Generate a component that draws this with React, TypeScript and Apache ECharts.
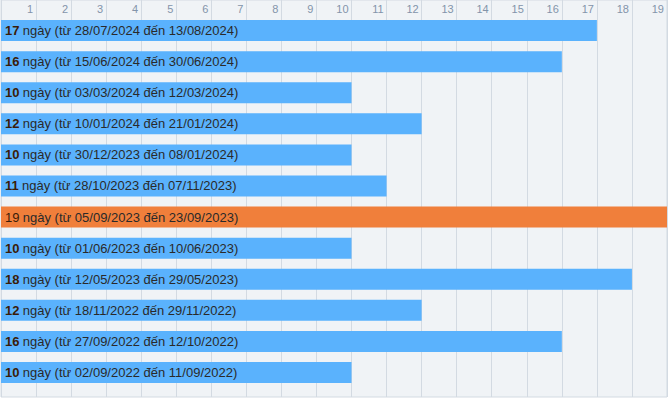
import React, { useEffect, useRef } from "react";
import * as echarts from "echarts";

const days = [17, 16, 10, 12, 10, 11, 19, 10, 18, 12, 16, 10];
const starts = ["28/07/2024", "15/06/2024", "03/03/2024", "10/01/2024", "30/12/2023", "28/10/2023", "05/09/2023", "01/06/2023", "12/05/2023", "18/11/2022", "27/09/2022", "02/09/2022"];
const ends = ["13/08/2024", "30/06/2024", "12/03/2024", "21/01/2024", "08/01/2024", "07/11/2023", "23/09/2023", "10/06/2023", "29/05/2023", "29/11/2022", "12/10/2022", "11/09/2022"];
const highlightIndex = 6;
const xMax = 19;

export default function App() {
  const ref = useRef<HTMLDivElement>(null);
  useEffect(() => {
    if (!ref.current) return;
    const chart = echarts.init(ref.current, null, { renderer: "svg" });
    const cats = days.map((_, i) => "r" + i);
    chart.setOption({
      animation: false,
      grid: [
        { left: 1, right: 1, top: 0, bottom: 2, show: true, backgroundColor: "#f0f3f6", borderColor: "#d3dae2", borderWidth: 1 },
        { left: 1, right: 1, top: 15, height: 373 },
      ],
      xAxis: [
        {
          gridIndex: 0, type: "value", min: 0, max: xMax, interval: 1, position: "top",
          axisLine: { show: false }, axisTick: { show: false },
          splitLine: { show: true, lineStyle: { color: "#d3dae2", width: 1 } },
          axisLabel: {
            inside: true, margin: 3, align: "right", padding: [0, 3, 0, 0],
            color: "#8394aa", fontSize: 11, fontFamily: "Liberation Sans, Arial, sans-serif",
            showMinLabel: false,
            formatter: (v: number) => (v === 0 ? "" : String(v)),
          },
        },
        { gridIndex: 1, type: "value", min: 0, max: xMax, show: false, splitLine: { show: false } },
      ],
      yAxis: [
        { gridIndex: 0, type: "value", show: false, splitLine: { show: false } },
        { gridIndex: 1, type: "category", data: cats, inverse: true, show: false },
      ],
      series: [
        {
          type: "bar", xAxisIndex: 1, yAxisIndex: 1, barWidth: 21,
          data: days.map((d, i) => ({
            value: d,
            itemStyle: { color: i === highlightIndex ? "#f07f3b" : "#5ab2fd" },
          })),
          label: {
            show: true, position: "insideLeft", distance: 4,
            formatter: (p: any) => {
              const tag = p.dataIndex === highlightIndex ? "h" : "b";
              return `{${tag}|${days[p.dataIndex]}} {n|ngày (từ ${starts[p.dataIndex]} đến ${ends[p.dataIndex]})}`;
            },
            rich: {
              b: { fontWeight: "bold", fontSize: 13, color: "#3a1c08", fontFamily: "Liberation Sans, Arial, sans-serif" },
              h: { fontWeight: "normal", fontSize: 13, color: "#3a1c08", fontFamily: "Liberation Sans, Arial, sans-serif" },
              n: { fontSize: 13, color: "#2a2a2a", fontFamily: "Liberation Sans, Arial, sans-serif" },
            },
          },
        },
      ],
    });
    return () => chart.dispose();
  }, []);
  return <div ref={ref} style={{ width: 668, height: 399, position: "absolute", left: 0, top: 0 }} />;
}
